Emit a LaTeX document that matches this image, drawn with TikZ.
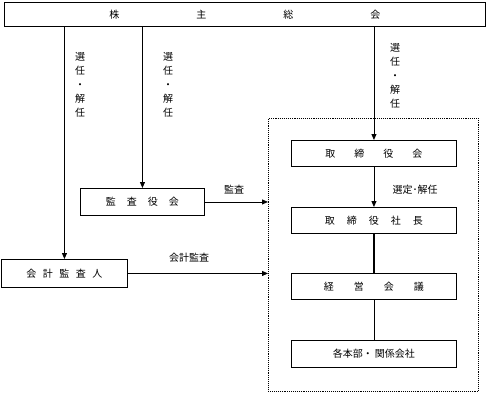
\documentclass[tikz,border=0pt]{standalone}
\usepackage{fontspec}
\setmainfont{Noto Sans CJK JP}
\usetikzlibrary{arrows.meta}
\begin{document}
\begin{tikzpicture}[x=1pt,y=-1pt, font=\fontsize{10}{14}\selectfont,
 box/.style={draw, line width=0.9pt, inner sep=0pt, anchor=north west},
 arr/.style={line width=0.9pt, -{Triangle[length=6pt,width=5pt]}},
 lab/.style={inner sep=0pt, align=center}]
\useasboundingbox (0,0) rectangle (486,392);
\node[box, minimum width=481pt, minimum height=24pt] (gm) at (4,2) {株\hspace{77pt}主\hspace{77pt}総\hspace{77pt}会};
\node[box, minimum width=124pt, minimum height=27pt] (kansa) at (80,188) {監\hspace{11pt}査\hspace{11pt}役\hspace{11pt}会};
\node[box, minimum width=126pt, minimum height=28pt] (kaikei) at (1,259) {会\hspace{6.5pt}計\hspace{6.5pt}監\hspace{6.5pt}査\hspace{6.5pt}人};
\node[box, draw, densely dotted, line width=0.7pt, minimum width=210pt, minimum height=273pt] (dot) at (268,118) {};
\node[box, minimum width=165pt, minimum height=26pt] (tori) at (291,140) {取\hspace{19pt}締\hspace{19pt}役\hspace{19pt}会};
\node[box, minimum width=165pt, minimum height=26pt] (shacho) at (291,207) {取\hspace{12pt}締\hspace{12pt}役\hspace{12pt}社\hspace{12pt}長};
\node[box, minimum width=165pt, minimum height=26pt] (keiei) at (291,273) {経\hspace{20pt}営\hspace{20pt}会\hspace{20pt}議};
\node[box, minimum width=165pt, minimum height=27pt] (kaku) at (291,340) {各本部・\hspace{2pt}関係会社};

\node[lab] (l1) at (80,85) {選\\任\\・\\解\\任};
\node[lab] (l2) at (168,85) {選\\任\\・\\解\\任};
\node[lab] (l3) at (395,75.5) {選\\任\\・\\解\\任};
\node[lab] (l4) at (234,190) {監査};
\node[lab] (l5) at (189,258) {会計監査};
\node[lab] (l6) at (415,190) {選定･解任};

\draw[arr] (gm.south -| kaikei.north) -- (kaikei.north);
\draw[arr] (gm.south -| kansa.north) -- (kansa.north);
\draw[arr] (gm.south -| tori.north) -- (tori.north);
\draw[arr] (tori.south) -- (shacho.north);
\draw[line width=1.6pt] (shacho.south) -- (keiei.north);
\draw[line width=0.6pt] (keiei.south) -- (kaku.north);
\draw[arr] (kansa.east) -- (kansa.east -| dot.west);
\draw[arr] (kaikei.east) -- (kaikei.east -| dot.west);
\end{tikzpicture}
\end{document}
